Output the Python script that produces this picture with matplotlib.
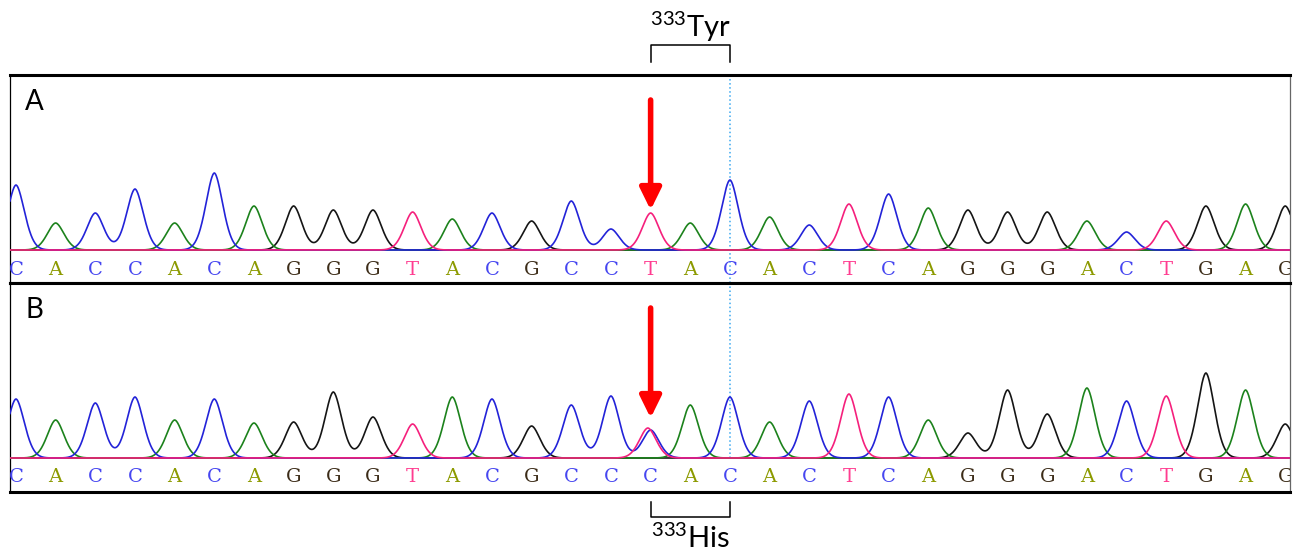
import numpy as np
import matplotlib
matplotlib.use("Agg")
import matplotlib.pyplot as plt

plt.rcParams['font.family'] = ['Lato', 'DejaVu Sans']

#### DATA ####
# base calls for the two samples (wild type A, mutant B)
bases_a = list("CACCACAGGGTACGCCTACACTCAGGGACTGAG")
bases_b = list("CACCACAGGGTACGCCCACACTCAGGGACTGAG")

# peak height of the called base at every position (arbitrary units)
heights_a = [65, 27, 37, 61, 27, 77, 44, 44, 40, 40,
             38, 31, 37, 29, 49, 21, 37, 27, 70, 33,
             25, 46, 56, 42, 40, 38, 38, 29, 18, 29,
             44, 46, 44]
heights_b = [59, 38, 55, 61, 38, 59, 35, 36, 66, 41,
             34, 61, 59, 32, 53, 62, 28, 53, 61, 36,
             57, 64, 61, 38, 25, 68, 44, 70, 57, 62,
             85, 68, 34]

# extra (non called) peaks: position, base, height
extra_b_pos = [15.93]
extra_b_base = ['T']
extra_b_height = [30]

mut_pos = 16          # position of the T>C change
codon = (16, 18)      # codon 333
codon_a_label = r'$^{\mathregular{333}}$Tyr'
codon_b_label = r'$^{\mathregular{333}}$His'

trace_colors = {'A': '#1c821c', 'C': '#2323d8', 'G': '#151515', 'T': '#f5207c'}
letter_colors = {'A': '#8c9a00', 'C': '#4646f0', 'G': '#3c2c18', 'T': '#ff3c90'}
PEAK_S = 0.306   # peak scale
PEAK_P = 1.8     # peak shape exponent (2 = gaussian)


def peak(x, c, h):
    return h * np.exp(-np.abs((x - c) / PEAK_S) ** PEAK_P)


def make_traces(heights, bases, x_pos=(), x_base=(), x_height=()):
    # one trace per dye
    x = np.linspace(-0.6, 32.6, 4000)
    traces = {b: np.zeros_like(x) for b in 'ACGT'}
    for i, (h, b) in enumerate(zip(heights, bases)):
        traces[b] += peak(x, i, h)
    for p, b, h in zip(x_pos, x_base, x_height):
        traces[b] += peak(x, p, h)
    return x, traces


def draw_panel(ax, heights, bases, label, letter_y, extras=((), (), ())):
    x, traces = make_traces(heights, bases, *extras)
    for b in ['G', 'A', 'C', 'T']:
        ax.plot(x, traces[b], color=trace_colors[b], lw=1.2, zorder=3)
    for i, b in enumerate(bases):
        ax.text(i, letter_y, b, color=letter_colors[b], family='DejaVu Serif',
                fontsize=14, ha='center', va='center', clip_on=True)
    ax.text(0.012, 0.87, label, transform=ax.transAxes, fontsize=20,
            ha='left', va='center')
    ax.set_xlim(-0.151, 32.12)
    ax.set_xticks([])
    ax.set_yticks([])
    for s in ['top', 'bottom']:
        ax.spines[s].set_linewidth(2.2)
    for s in ['left', 'right']:
        ax.spines[s].set_linewidth(0.9)
    ax.spines['right'].set_color('#666666')
    # red arrow over the mutated base
    ax.annotate('', xy=(mut_pos, 40), xytext=(mut_pos, 150),
                arrowprops=dict(arrowstyle='-|>,head_width=0.32,head_length=0.65',
                                color='#ff0000', lw=4, mutation_scale=20,
                                shrinkA=0, shrinkB=0), zorder=5)


fig = plt.figure(figsize=(12.96, 5.53), dpi=100)
W, H = 1296, 553
ax_a = fig.add_axes([10 / W, 1 - 283 / H, 1280 / W, 208 / H])
ax_b = fig.add_axes([10 / W, 1 - 492 / H, 1280 / W, 209 / H])

draw_panel(ax_a, heights_a, bases_a, 'A', -20)
ax_a.set_ylim(-33, 175)
draw_panel(ax_b, heights_b, bases_b, 'B', -19,
           (extra_b_pos, extra_b_base, extra_b_height))
ax_b.set_ylim(-34, 175)

# dotted cursor line on the codon's third base
ax_a.axvline(codon[1], color='#3aa8f0', ls=':', lw=1.1, zorder=2)
ax_b.plot([codon[1], codon[1]], [0, 175], color='#3aa8f0', ls=':', lw=1.1, zorder=2)

# codon brackets
ax_a.plot([codon[0], codon[0], codon[1], codon[1]], [188, 205, 205, 188],
          color='black', lw=1.1, clip_on=False)
ax_a.text(sum(codon) / 2, 213, codon_a_label, fontsize=21, ha='center',
          va='baseline', clip_on=False)
ax_b.plot([codon[0], codon[0], codon[1], codon[1]], [-44, -59, -59, -44],
          color='black', lw=1.1, clip_on=False)
ax_b.text(sum(codon) / 2, -90, codon_b_label, fontsize=21, ha='center',
          va='baseline', clip_on=False)

fig.savefig('out.png', dpi=100)
